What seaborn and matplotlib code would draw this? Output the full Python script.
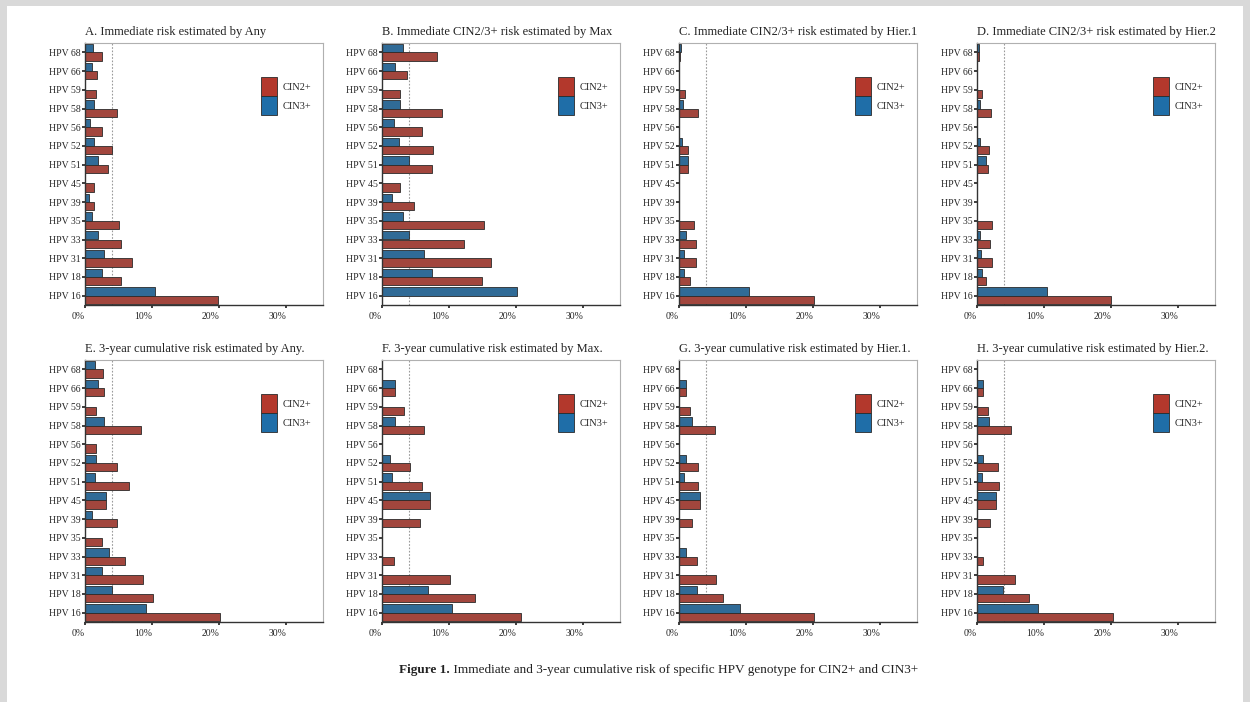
import numpy as np
import pandas as pd
import matplotlib
matplotlib.use("Agg")
import matplotlib.pyplot as plt
from matplotlib.patches import Patch, Rectangle
import seaborn as sns

# HPV genotypes, listed top to bottom as drawn on each y axis
genotypes = ["HPV 68", "HPV 66", "HPV 59", "HPV 58", "HPV 56", "HPV 52", "HPV 51",
             "HPV 45", "HPV 39", "HPV 35", "HPV 33", "HPV 31", "HPV 18", "HPV 16"]

titles = [
    "A. Immediate risk estimated by Any",
    "B. Immediate CIN2/3+ risk estimated by Max",
    "C. Immediate CIN2/3+ risk estimated by Hier.1",
    "D. Immediate CIN2/3+ risk estimated by Hier.2",
    "E. 3-year cumulative risk estimated by Any.",
    "F. 3-year cumulative risk estimated by Max.",
    "G. 3-year cumulative risk estimated by Hier.1.",
    "H. 3-year cumulative risk estimated by Hier.2.",
]

# Risk (%) per genotype, same order as `genotypes`
cin2_a = [2.5, 1.8, 1.7, 4.7, 2.6, 4.0, 3.5, 1.4, 1.4, 5.0, 5.4, 7.0, 5.3, 19.9]
cin3_a = [1.2, 1.1, 0.0, 1.4, 0.8, 1.4, 2.0, 0.0, 0.6, 1.1, 2.0, 2.9, 2.6, 10.5]
cin2_b = [8.2, 3.7, 2.7, 9.0, 6.0, 7.6, 7.5, 2.7, 4.8, 15.2, 12.3, 16.3, 14.9, 0.0]
cin3_b = [3.1, 1.9, 0.0, 2.7, 1.8, 2.5, 4.1, 0.0, 1.5, 3.1, 4.1, 6.3, 7.4, 20.1]
cin2_c = [0.2, 0.0, 0.9, 2.9, 0.0, 1.4, 1.4, 0.0, 0.0, 2.2, 2.5, 2.5, 1.6, 20.1]
cin3_c = [0.3, 0.0, 0.0, 0.6, 0.0, 0.4, 1.3, 0.0, 0.0, 0.0, 1.0, 0.7, 0.8, 10.5]
cin2_d = [0.3, 0.0, 0.7, 2.1, 0.0, 1.8, 1.6, 0.0, 0.0, 2.2, 1.9, 2.3, 1.4, 20.0]
cin3_d = [0.25, 0.0, 0.0, 0.4, 0.0, 0.5, 1.4, 0.0, 0.0, 0.0, 0.4, 0.6, 0.7, 10.5]
cin2_e = [2.7, 2.9, 1.7, 8.3, 1.6, 4.8, 6.6, 3.1, 4.7, 2.5, 6.0, 8.6, 10.1, 20.2]
cin3_e = [1.5, 2.0, 0.0, 2.8, 0.0, 1.7, 1.5, 3.1, 1.0, 0.0, 3.6, 2.5, 4.0, 9.1]
cin2_f = [0.0, 1.9, 3.3, 6.2, 0.0, 4.2, 6.0, 7.1, 5.7, 0.0, 1.8, 10.1, 13.8, 20.7]
cin3_f = [0.0, 1.9, 0.0, 1.9, 0.0, 1.2, 1.5, 7.1, 0.0, 0.0, 0.0, 0.0, 6.9, 10.4]
cin2_g = [0.0, 1.0, 1.6, 5.4, 0.0, 2.8, 2.8, 3.1, 2.0, 0.0, 2.7, 5.5, 6.5, 20.2]
cin3_g = [0.0, 1.0, 0.0, 1.9, 0.0, 1.0, 0.7, 3.1, 0.0, 0.0, 1.0, 0.0, 2.7, 9.1]
cin2_h = [0.0, 0.9, 1.6, 5.0, 0.0, 3.1, 3.3, 2.9, 1.9, 0.0, 0.9, 5.6, 7.7, 20.3]
cin3_h = [0.0, 0.9, 0.0, 1.8, 0.0, 0.9, 0.7, 2.9, 0.0, 0.0, 0.0, 0.0, 3.9, 9.1]

cin2_all = [cin2_a, cin2_b, cin2_c, cin2_d, cin2_e, cin2_f, cin2_g, cin2_h]
cin3_all = [cin3_a, cin3_b, cin3_c, cin3_d, cin3_e, cin3_f, cin3_g, cin3_h]

x_ticks = [0, 10, 20, 30]
x_tick_labels = ["0%", "10%", "20%", "30%"]
reference_line = 4.0

caption_bold = "Figure 1."
caption_rest = " Immediate and 3-year cumulative risk of specific HPV genotype for CIN2+ and CIN3+"

RED = "#b3382c"
BLUE = "#1f6ea8"
EDGE = "#2a2a2a"

sns.set_theme(style="white")
plt.rcParams["font.family"] = ["Liberation Serif", "DejaVu Serif"]

W, H = 1250, 702
fig = plt.figure(figsize=(W / 100, H / 100), dpi=100)
fig.patch.set_facecolor("#d9d9d9")
fig.add_artist(Rectangle((7 / W, 0), (W - 14) / W, (H - 6) / H,
                         transform=fig.transFigure, facecolor="white",
                         edgecolor="none", zorder=-10))

lefts = [85, 382, 679, 977]
tops = [43, 360]
aw, ah = 238, 262

for i in range(8):
    row, col = divmod(i, 4)
    left, top = lefts[col], tops[row]
    ax = fig.add_axes([left / W, 1 - (top + ah) / H, aw / W, ah / H])

    df = pd.DataFrame({
        "genotype": genotypes * 2,
        "risk": list(cin3_all[i]) + list(cin2_all[i]),
        "grade": ["CIN3+"] * len(genotypes) + ["CIN2+"] * len(genotypes),
    })
    sns.barplot(data=df, x="risk", y="genotype", hue="grade", order=genotypes,
                hue_order=["CIN3+", "CIN2+"],
                palette={"CIN2+": RED, "CIN3+": BLUE},
                orient="h", width=0.9, gap=0, edgecolor=EDGE, linewidth=0.6,
                errorbar=None, ax=ax, legend=False)

    ax.axvline(reference_line, color="#9a9a9a", linestyle=(0, (1.5, 1.5)),
               linewidth=0.8, zorder=0)
    ax.set_xlim(0, 35.5)
    ax.set_xticks(x_ticks)
    ax.set_xticklabels(x_tick_labels, ha="right", fontsize=7)
    ax.tick_params(axis="y", labelsize=7, length=2, pad=1, left=True)
    ax.tick_params(axis="x", length=2, pad=3, bottom=True)
    ax.set_xlabel("")
    ax.set_ylabel("")
    ax.set_title(titles[i], loc="left", fontsize=9, pad=6, color="#222222")

    for side in ["left", "bottom"]:
        ax.spines[side].set_color("#333333")
        ax.spines[side].set_linewidth(1.0)
    for side in ["top", "right"]:
        ax.spines[side].set_color("#b0b0b0")
        ax.spines[side].set_linewidth(0.8)

    handles = [Patch(facecolor=RED, edgecolor=EDGE, linewidth=0.6, label="CIN2+"),
               Patch(facecolor=BLUE, edgecolor=EDGE, linewidth=0.6, label="CIN3+")]
    ax.legend(handles=handles, loc="upper left", bbox_to_anchor=(0.72, 0.885),
              frameon=False, fontsize=7.5, handlelength=1.6, handleheight=2.4,
              labelspacing=0.0, handletextpad=0.5, borderaxespad=0)

# Caption: bold lead-in followed by regular text, centred as a whole
cap_y = 1 - 670 / H
bold_txt = fig.text(0, cap_y, caption_bold, ha="left", va="center",
                    fontsize=9.5, fontweight="bold", color="#222222")
rest_txt = fig.text(0, cap_y, caption_rest, ha="left", va="center",
                    fontsize=9.5, color="#222222")
renderer = fig.canvas.get_renderer()
bw = bold_txt.get_window_extent(renderer).width / W
rw = rest_txt.get_window_extent(renderer).width / W
start = 0.527 - (bw + rw) / 2
bold_txt.set_x(start)
rest_txt.set_x(start + bw)

fig.savefig("out.png", dpi=100, facecolor=fig.get_facecolor())
